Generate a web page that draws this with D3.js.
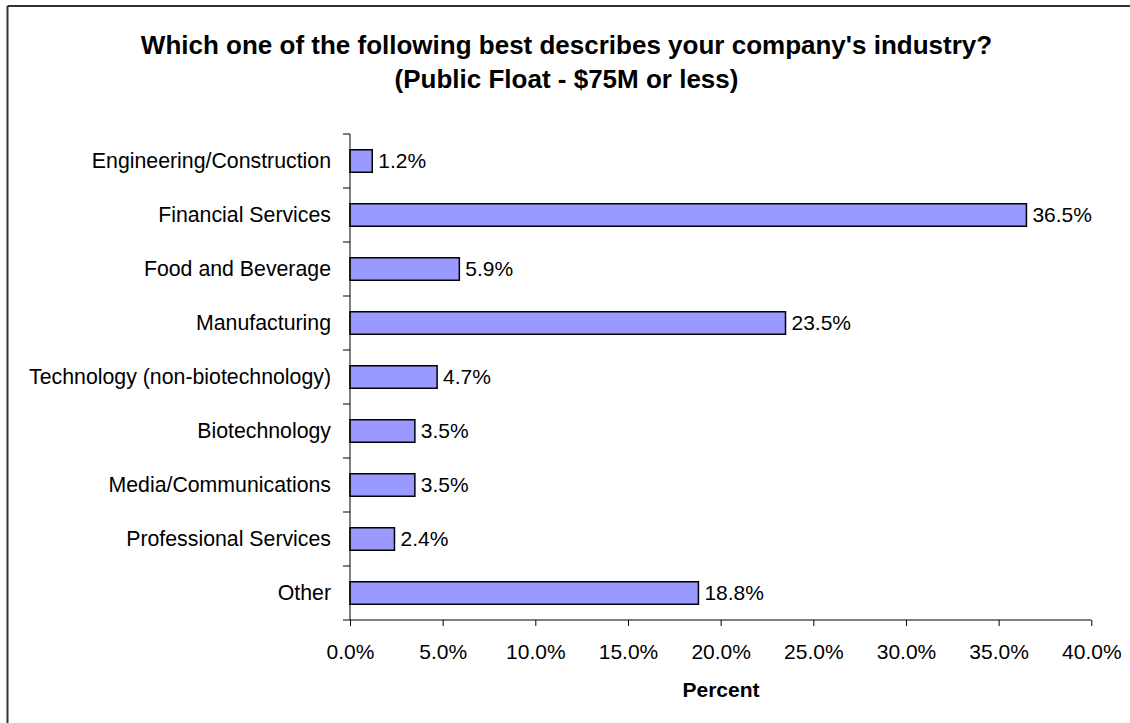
<!DOCTYPE html>
<html>
<head>
<meta charset="utf-8">
<script src="https://cdn.jsdelivr.net/npm/d3@7"></script>
<style>
  html, body { margin: 0; padding: 0; background: #fff; }
  svg { display: block; font-family: "Liberation Sans", Arial, sans-serif; }
</style>
</head>
<body>
<svg id="chart" width="1130" height="723"></svg>
<script>
// Survey answers: share of respondents per industry
const categories = [
  "Engineering/Construction",
  "Financial Services",
  "Food and Beverage",
  "Manufacturing",
  "Technology (non-biotechnology)",
  "Biotechnology",
  "Media/Communications",
  "Professional Services",
  "Other"
];
const percentValues = [1.2, 36.5, 5.9, 23.5, 4.7, 3.5, 3.5, 2.4, 18.8];
const tickValues = [0, 5, 10, 15, 20, 25, 30, 35, 40];
const titleLines = [
  "Which one of the following best describes your company's industry?",
  "(Public Float - $75M or less)"
];
const axisTitle = "Percent";

const svg = d3.select("#chart");
const W = 1130, H = 723;

// Frame: only the top and left edges are visible
svg.append("line").attr("x1", 7.5).attr("y1", 6).attr("x2", W).attr("y2", 6)
  .attr("stroke", "#333").attr("stroke-width", 2);
svg.append("line").attr("x1", 7.5).attr("y1", 6).attr("x2", 7.5).attr("y2", H)
  .attr("stroke", "#333").attr("stroke-width", 2);

const plot = { left: 350, right: 1091.3, top: 134, bottom: 620 };

const x = d3.scaleLinear().domain([0, 40]).range([plot.left, plot.right]);
const y = d3.scaleBand().domain(categories).range([plot.top, plot.bottom]);
const barH = 22.5;

// Title
svg.append("g").selectAll("text").data(titleLines).join("text")
  .attr("x", 566.5).attr("y", (d, i) => 54 + i * 34)
  .attr("text-anchor", "middle")
  .attr("font-size", 26).attr("font-weight", "bold").attr("fill", "#000")
  .text(d => d);

// Bars
svg.append("g").selectAll("rect").data(percentValues).join("rect")
  .attr("x", x(0))
  .attr("y", (d, i) => y(categories[i]) + y.bandwidth() / 2 - barH / 2)
  .attr("width", d => x(d) - x(0))
  .attr("height", barH)
  .attr("fill", "#9999FF")
  .attr("stroke", "#000").attr("stroke-width", 1.5);

// Value labels
svg.append("g").selectAll("text").data(percentValues).join("text")
  .attr("x", d => x(d) + 6)
  .attr("y", (d, i) => y(categories[i]) + y.bandwidth() / 2)
  .attr("dy", "0.35em")
  .attr("font-size", 21).attr("fill", "#000")
  .text(d => d.toFixed(1) + "%");

// Category axis: ticks sit on the band boundaries
const yAxisG = svg.append("g");
yAxisG.append("line")
  .attr("x1", plot.left).attr("x2", plot.left)
  .attr("y1", plot.top).attr("y2", plot.bottom)
  .attr("stroke", "#000").attr("stroke-width", 1);
const boundaries = categories.map(c => y(c)).concat([plot.bottom]);
yAxisG.selectAll("line.tick").data(boundaries).join("line")
  .attr("class", "tick")
  .attr("x1", plot.left - 7).attr("x2", plot.left)
  .attr("y1", d => d).attr("y2", d => d)
  .attr("stroke", "#000").attr("stroke-width", 1);
yAxisG.selectAll("text").data(categories).join("text")
  .attr("x", 331)
  .attr("y", d => y(d) + y.bandwidth() / 2)
  .attr("dy", "0.35em")
  .attr("text-anchor", "end")
  .attr("font-size", 21.3).attr("fill", "#000")
  .text(d => d);

// Value axis
const xAxis = d3.axisBottom(x)
  .tickValues(tickValues)
  .tickSize(6)
  .tickFormat(d => d.toFixed(1) + "%");
const xAxisG = svg.append("g")
  .attr("transform", `translate(0,${plot.bottom})`)
  .call(xAxis);
xAxisG.select(".domain").attr("stroke", "#000").attr("d", `M${plot.left},0H${plot.right}`);
xAxisG.selectAll(".tick line").attr("stroke", "#000");
xAxisG.selectAll(".tick text")
  .attr("y", 24).attr("dy", "0.71em")
  .attr("font-size", 21).attr("fill", "#000")
  .attr("font-family", "'Liberation Sans', Arial, sans-serif");

// Axis title
svg.append("text")
  .attr("x", 721).attr("y", 697)
  .attr("text-anchor", "middle")
  .attr("font-size", 21).attr("font-weight", "bold").attr("fill", "#000")
  .text(axisTitle);
</script>
</body>
</html>
